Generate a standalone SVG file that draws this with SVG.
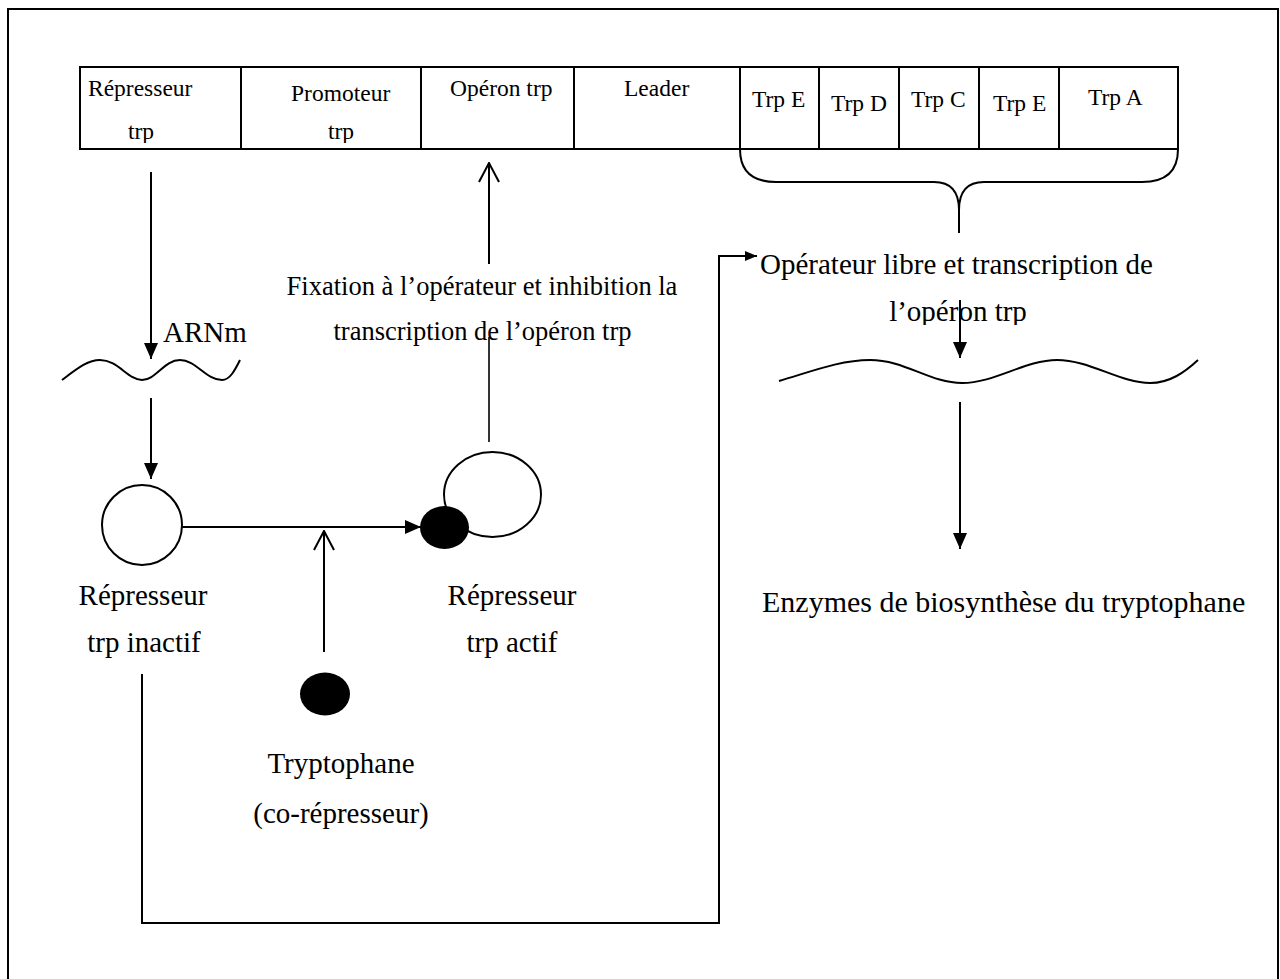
<svg xmlns="http://www.w3.org/2000/svg" width="1280" height="979" viewBox="0 0 1280 979">
  <style>
    text { font-family: "Liberation Serif", "Times New Roman", serif; fill: #000; }
    .cell { font-size: 23.5px; }
    .lbl { font-size: 29px; }
    .big { font-size: 30px; }
    .fix { font-size: 26.5px; }
    .box { fill: none; stroke: #000; stroke-width: 2; }
    .ln { fill: none; stroke: #000; stroke-width: 2; }
    .thin { fill: none; stroke: #000; stroke-width: 1.6; }
  </style>
  <defs>
    <marker id="head" viewBox="0 0 16 14" refX="16" refY="7" markerWidth="16" markerHeight="14" markerUnits="userSpaceOnUse" orient="auto">
      <path d="M0,0 L16,7 L0,14 z" fill="#000"/>
    </marker>
    <marker id="head-sm" viewBox="0 0 12 10" refX="12" refY="5" markerWidth="12" markerHeight="10" markerUnits="userSpaceOnUse" orient="auto">
      <path d="M0,0 L12,5 L0,10 z" fill="#000"/>
    </marker>
    <marker id="open" viewBox="0 0 21 22" refX="20" refY="11" markerWidth="21" markerHeight="22" markerUnits="userSpaceOnUse" orient="auto">
      <path d="M1,1 L20,11 L1,21" fill="none" stroke="#000" stroke-width="2"/>
    </marker>
    <clipPath id="cell-clip"><rect x="80" y="67" width="1098" height="76"/></clipPath>
    <clipPath id="line2-clip"><rect x="860" y="290" width="200" height="35"/></clipPath>
  </defs>

  <rect width="1280" height="979" fill="#fff"/>

  <!-- page frame -->
  <g id="frame">
    <rect class="box" x="8" y="9" width="1270" height="990"/>
  </g>

  <!-- gene map of the trp operon -->
  <g id="gene-map">
    <rect class="box" x="80" y="67" width="1098" height="82"/>
    <path class="ln" d="M241,67 V149 M421,67 V149 M574,67 V149 M740,67 V149 M819,67 V149 M899,67 V149 M979,67 V149 M1059,67 V149"/>
    <g clip-path="url(#cell-clip)">
      <text class="cell" x="88" y="96">Répresseur</text>
      <text class="cell" x="128" y="139">trp</text>
      <text class="cell" x="291" y="101">Promoteur</text>
      <text class="cell" x="328" y="139">trp</text>
      <text class="cell" x="450" y="96">Opéron trp</text>
      <text class="cell" x="624" y="96">Leader</text>
      <text class="cell" x="752" y="107">Trp E</text>
      <text class="cell" x="831" y="111">Trp D</text>
      <text class="cell" x="911" y="107">Trp C</text>
      <text class="cell" x="993" y="111">Trp E</text>
      <text class="cell" x="1088" y="105">Trp A</text>
    </g>
  </g>

  <!-- brace under the structural genes -->
  <g id="brace">
    <path class="ln" d="M740,149 Q740,182 776,182 L934,182 Q959,182 959,210 Q959,182 984,182 L1142,182 Q1178,182 1178,149 M959,208 V233"/>
  </g>

  <!-- left mRNA -->
  <g id="mrna-1">
    <path class="ln" d="M62,380 C78,368 88,360 100,360 C118,360 128,380 142,380 C156,380 164,360 180,360 C196,360 206,380 222,380 C230,380 235,370 240,360"/>
    <text class="lbl" x="163" y="342">ARNm</text>
  </g>

  <!-- inactive repressor -->
  <g id="repressor-inactive">
    <circle cx="142" cy="525" r="40" fill="#fff" stroke="#000" stroke-width="2"/>
    <text class="lbl" x="143" y="605" text-anchor="middle">Répresseur</text>
    <text class="lbl" x="144" y="652" text-anchor="middle">trp inactif</text>
  </g>

  <!-- active repressor with bound tryptophan -->
  <g id="repressor-active">
    <ellipse cx="492.5" cy="494.5" rx="48.5" ry="42.5" fill="#fff" stroke="#000" stroke-width="2"/>
    <ellipse cx="444.5" cy="527.5" rx="24.5" ry="21.5" fill="#000"/>
    <text class="lbl" x="512" y="605" text-anchor="middle">Répresseur</text>
    <text class="lbl" x="512" y="652" text-anchor="middle">trp actif</text>
  </g>

  <!-- tryptophan co-repressor -->
  <g id="tryptophan">
    <ellipse cx="325" cy="694" rx="25" ry="21.5" fill="#000"/>
    <text class="lbl" x="341" y="773" text-anchor="middle">Tryptophane</text>
    <text class="lbl" x="341" y="823" text-anchor="middle">(co-répresseur)</text>
  </g>

  <!-- repression label -->
  <g id="label-fixation">
    <text class="fix" x="482" y="295" text-anchor="middle">Fixation à l’opérateur et inhibition la</text>
    <text class="fix" x="482.5" y="340" text-anchor="middle">transcription de l’opéron trp</text>
  </g>

  <!-- free operator label -->
  <g id="label-free-operator">
    <text class="lbl" x="760" y="274">Opérateur libre et transcription de</text>
    <text class="lbl" x="958" y="321" text-anchor="middle" clip-path="url(#line2-clip)">l’opéron trp</text>
  </g>

  <!-- right mRNA -->
  <g id="mrna-2">
    <path class="ln" d="M779,381 C810,372 840,360 870,360 C905,360 930,383 962,383 C995,383 1025,360 1057,360 C1090,360 1120,383 1150,383 C1170,383 1185,372 1198,360"/>
  </g>

  <!-- enzymes -->
  <g id="enzymes">
    <text class="big" x="762" y="612">Enzymes de biosynthèse du tryptophane</text>
  </g>

  <!-- connectors -->
  <g id="connectors">
    <path class="ln" d="M151,172 V359" marker-end="url(#head)"/>
    <path class="ln" d="M151,398 V479" marker-end="url(#head)"/>
    <path class="ln" d="M182,527 H421" marker-end="url(#head)"/>
    <path class="ln" d="M324,652 V531" marker-end="url(#open)"/>
    <path class="thin" d="M489,442 V337"/>
    <path class="ln" d="M489,264 V163" marker-end="url(#open)"/>
    <path class="ln" d="M142,674 V923 H719 V256 H757" marker-end="url(#head-sm)"/>
    <path class="ln" d="M960,300 V358" marker-end="url(#head)"/>
    <path class="ln" d="M960,402 V549" marker-end="url(#head)"/>
  </g>
</svg>
